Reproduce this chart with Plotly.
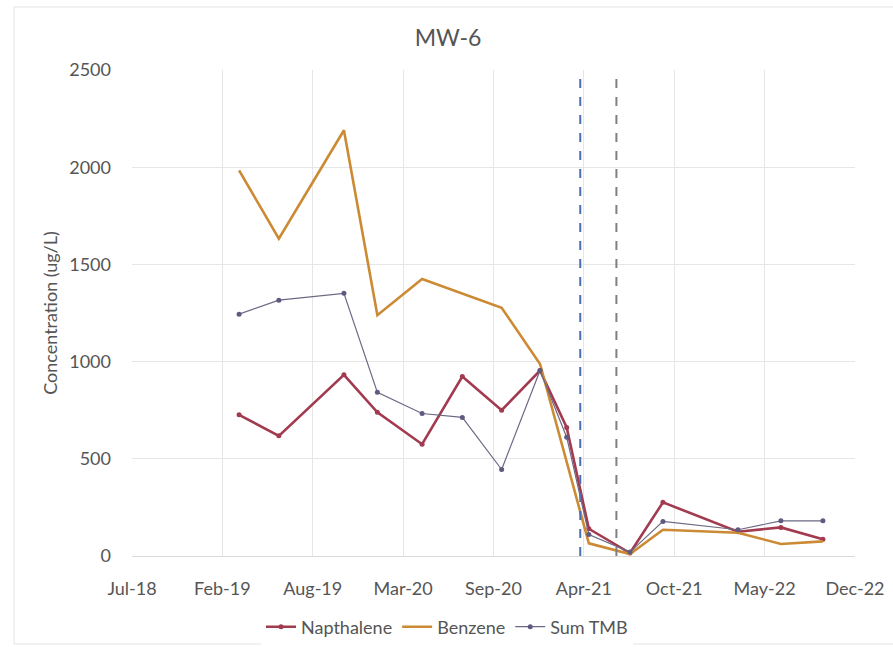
import pandas as pd
import plotly.graph_objects as go

# Sampling dates for well MW-6
sample_dates = ["2019-03-11", "2019-06-07", "2019-10-29", "2020-01-11", "2020-04-19",
                "2020-07-17", "2020-10-12", "2021-01-05", "2021-03-05", "2021-04-23",
                "2021-07-23", "2021-10-04", "2022-03-19", "2022-06-22", "2022-09-23"]

# Concentrations in ug/L (None = not reported)
napthalene = [726, 618, 932, 739, 575, 923, 750, 954, 661, 140, 15, 276, 125, 147, 86]
benzene = [1984, 1632, 2190, 1239, 1425, None, 1277, 988, None, 65, 10, 135, 120, 62, 75]
sum_tmb = [1244, 1316, 1351, 842, 733, 713, 445, 954, 611, 110, 20, 178, 135, 181, 181]

# Treatment event dates (dashed markers)
event_dates = ["2021-04-04", "2021-06-23"]
event_colors = ["#4A6FB5", "#7F7F86"]

# Date axis: 200-day major unit starting mid-July 2018
axis_start = pd.Timestamp("2018-07-17")
tick_step_days = 200
tick_labels = ["Jul-18", "Feb-19", "Aug-19", "Mar-20", "Sep-20",
               "Apr-21", "Oct-21", "May-22", "Dec-22"]
tick_dates = [axis_start + pd.Timedelta(days=tick_step_days * i) for i in range(len(tick_labels))]

y_ticks = [0, 500, 1000, 1500, 2000, 2500]

FONT = "Lato"
GRAY = "#555555"
TICK_FONT = dict(family=FONT, size=18, color=GRAY)

fig = go.Figure()

fig.add_trace(go.Scatter(
    x=sample_dates, y=napthalene, name="Napthalene", mode="lines+markers",
    line=dict(color="#A23A50", width=2.6),
    marker=dict(size=5, color="#A23A50"),
))
fig.add_trace(go.Scatter(
    x=sample_dates, y=benzene, name="Benzene", mode="lines", connectgaps=True,
    line=dict(color="#CB8A33", width=2.6),
))
fig.add_trace(go.Scatter(
    x=sample_dates, y=sum_tmb, name="Sum TMB", mode="lines+markers",
    line=dict(color="#6C6883", width=1.2),
    marker=dict(size=5, color="#5E5A80"),
))

for d, c in zip(event_dates, event_colors):
    fig.add_shape(type="line", xref="x", yref="y", x0=d, x1=d, y0=0, y1=y_ticks[-1],
                  line=dict(color=c, width=2, dash="dash"), layer="above")

# Faint chart-area border
fig.add_shape(type="rect", xref="paper", yref="paper",
              x0=(14 - 132) / 723, x1=(905 - 132) / 723,
              y0=(556 - 644) / 486, y1=(556 - 7) / 486,
              line=dict(color="#E3E3E3", width=1), layer="below")

fig.update_layout(
    width=893, height=647,
    margin=dict(l=132, r=38, t=70, b=91, autoexpand=False),
    paper_bgcolor="white", plot_bgcolor="white",
    title=dict(text="MW-6", x=(448 - 132) / 723, xref="paper", xanchor="center",
               y=1 - 38 / 647, yanchor="middle",
               font=dict(family=FONT, size=23, color=GRAY)),
    font=dict(family=FONT, size=18, color=GRAY),
    showlegend=True,
    legend=dict(orientation="h", x=(447 - 132) / 723, xanchor="center",
                y=(556 - 627) / 486, yanchor="middle",
                font=dict(family=FONT, size=18, color=GRAY),
                itemwidth=30, tracegroupgap=0),
)

fig.update_xaxes(
    type="date",
    range=[tick_dates[0], tick_dates[-1]],
    tickvals=tick_dates, ticktext=tick_labels,
    showgrid=True, gridcolor="#E6E6E6", gridwidth=1,
    showline=True, linecolor="#D9D9D9", linewidth=1,
    ticks="", tickfont=TICK_FONT, ticklabelstandoff=16,
    zeroline=False, automargin=False,
)
fig.update_yaxes(
    range=[0, 2500], tickvals=y_ticks,
    showgrid=True, gridcolor="#E6E6E6", gridwidth=1,
    showline=False, zeroline=False, ticks="",
    tickfont=TICK_FONT, ticklabelstandoff=20, automargin=False,
    title=dict(text="Concentration (ug/L)", standoff=6,
               font=dict(family=FONT, size=18, color=GRAY)),
)

fig.write_html("out.html")
